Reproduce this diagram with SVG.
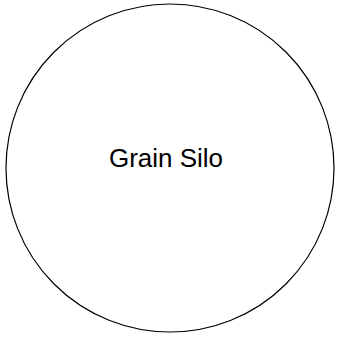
<svg xmlns="http://www.w3.org/2000/svg" width="338" height="339" viewBox="0 0 338 339">
<style>
.node{fill:#fff;stroke:#000;stroke-width:1.2}
.label{font-family:"Liberation Sans",Arial,sans-serif;font-size:26px;fill:#000;text-anchor:middle}
</style>
<rect width="338" height="339" fill="#fff"/>
<g id="connectors"></g>
<g id="grain-silo">
<circle class="node" cx="170" cy="168" r="164"/>
<text class="label" x="166" y="167">Grain Silo</text>
</g>
</svg>
